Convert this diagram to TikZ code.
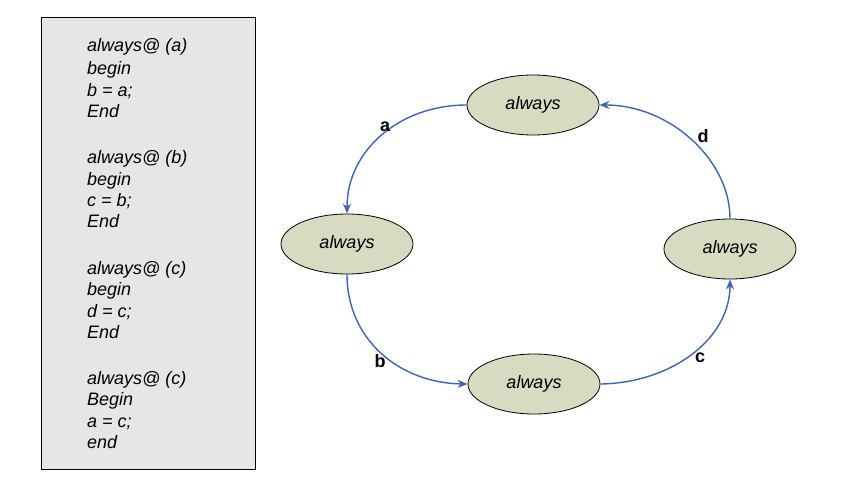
\documentclass[tikz,border=0pt]{standalone}
\usepackage{fontspec}
\setmainfont{Liberation Sans}
\usetikzlibrary{shapes.geometric,arrows.meta}
\definecolor{boxgray}{RGB}{230,230,230}
\definecolor{ellfill}{RGB}{214,219,194}
\definecolor{edgeblue}{RGB}{63,99,174}
\tikzset{
  state/.style={ellipse, draw=black, line width=0.8pt, fill=ellfill, minimum width=132pt, minimum height=60pt, inner sep=0pt, font=\fontsize{18}{22}\selectfont\itshape},
  codeline/.style={anchor=base west, inner sep=0pt, font=\fontsize{18}{22}\selectfont\itshape},
  flow/.style={draw=edgeblue, line width=1.4pt, -{Stealth[length=10pt,width=8pt]}},
  elabel/.style={inner sep=0pt, font=\fontsize{18}{20}\selectfont\bfseries}
}
\begin{document}
\begin{tikzpicture}[x=1pt,y=-1pt]
\useasboundingbox (0,0) rectangle (848,482);
\node[draw=black, line width=0.8pt, fill=boxgray, minimum width=214pt, minimum height=452pt, inner sep=0pt, anchor=north west] (codebox) at (41,17) {};
\foreach \y/\t [count=\i] in {51/always@ (a), 74/begin, 96/b = a;, 117/End,
  163/always@ (b), 185/begin, 206/c = b;, 227/End,
  274/always@ (c), 295/begin, 317/d = c;, 338/End,
  384/always@ (c), 405/Begin, 427/a = c;, 448/end}
  \node[codeline] (line\i) at (87,\y) {\t};
\node[state] (top) at (533,105) {always};
\node[state] (left) at (347,244) {always};
\node[state] (right) at (730,249) {always};
\node[state] (bottom) at (534,384) {always};
\draw[flow] (top.west) .. controls (400,105) and (347,150) .. (left.north);
\draw[flow] (left.south) .. controls (347,340) and (400,383) .. (bottom.west);
\draw[flow] (bottom.east) .. controls (670,383) and (730,340) .. (right.south);
\draw[flow] (right.north) .. controls (730,160) and (670,105) .. (top.east);
\node[elabel] (la) at (385,127) {a};
\node[elabel] (lb) at (380,361) {b};
\node[elabel] (lc) at (700,358) {c};
\node[elabel] (ld) at (703,136) {d};
\end{tikzpicture}
\end{document}
